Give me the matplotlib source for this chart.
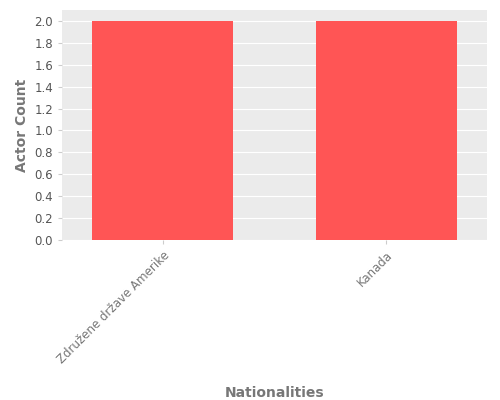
import matplotlib
matplotlib.use("Agg")
import matplotlib.pyplot as plt

nationalities = ["Združene države Amerike", "Kanada"]
actor_counts = [2, 2]

fig = plt.figure(figsize=(5, 4), dpi=100)
ax = fig.add_axes([0.124, 0.40, 0.85, 0.575])
ax.set_facecolor("#ebebeb")
ax.bar(nationalities, actor_counts, color="#ff5555", width=0.63, zorder=3)

ax.set_xlim(-0.45, 1.45)
ax.set_ylim(0, 2.1)
ax.set_yticks([i / 5 for i in range(11)])
ax.grid(axis="y", color="white", linewidth=0.8, zorder=0)
for s in ax.spines.values():
    s.set_visible(False)
ax.tick_params(labelsize=8.5, length=3)
ax.tick_params(axis="x", colors="#cccccc", labelcolor="#777777")
ax.tick_params(axis="y", colors="#cccccc", labelcolor="#555555")
plt.setp(ax.get_xticklabels(), rotation=45, ha="right", rotation_mode="anchor")

ax.set_ylabel("Actor Count", fontsize=10, fontweight="bold", color="#777777")
ax.set_xlabel("Nationalities", fontsize=10, fontweight="bold", color="#777777", labelpad=14)

fig.savefig("out.png")
